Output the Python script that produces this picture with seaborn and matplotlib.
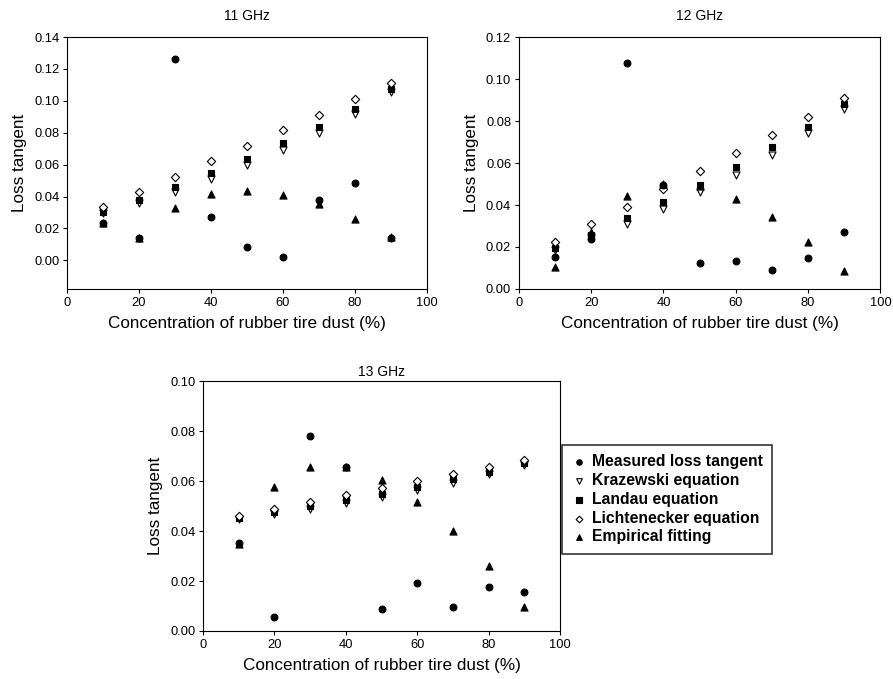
import numpy as np
import pandas as pd
import matplotlib
matplotlib.use("Agg")
import matplotlib.pyplot as plt
import seaborn as sns

# concentration of rubber tire dust (%)
concentration = [10, 20, 30, 40, 50, 60, 70, 80, 90]

series_names = [
    "Measured loss tangent",
    "Krazewski equation",
    "Landau equation",
    "Lichtenecker equation",
    "Empirical fitting",
]

# 11 GHz
measured_11 = [0.0236, 0.0142, 0.1260, 0.0272, 0.0086, 0.0023, 0.0379, 0.0485, 0.0138]
krazewski_11 = [0.0295, 0.0358, 0.0430, 0.0510, 0.0596, 0.0690, 0.0797, 0.0917, 0.1055]
landau_11 = [0.0303, 0.0380, 0.0460, 0.0548, 0.0638, 0.0737, 0.0839, 0.0952, 0.1073]
lichtenecker_11 = [0.0333, 0.0427, 0.0525, 0.0621, 0.0718, 0.0816, 0.0912, 0.1010, 0.1110]
empirical_11 = [0.0234, 0.0140, 0.0329, 0.0418, 0.0437, 0.0412, 0.0354, 0.0262, 0.0144]

# 12 GHz
measured_12 = [0.0151, 0.0240, 0.1078, 0.0495, 0.0125, 0.0133, 0.0092, 0.0148, 0.0270]
krazewski_12 = [0.0187, 0.0246, 0.0311, 0.0381, 0.0460, 0.0544, 0.0638, 0.0743, 0.0857]
landau_12 = [0.0195, 0.0259, 0.0337, 0.0413, 0.0494, 0.0579, 0.0675, 0.0770, 0.0881]
lichtenecker_12 = [0.0224, 0.0308, 0.0392, 0.0478, 0.0563, 0.0649, 0.0735, 0.0821, 0.0908]
empirical_12 = [0.0103, 0.0271, 0.0444, 0.0500, 0.0492, 0.0430, 0.0341, 0.0224, 0.0084]

# 13 GHz
measured_13 = [0.0354, 0.0057, 0.0781, 0.0655, 0.0088, 0.0194, 0.0097, 0.0178, 0.0155]
krazewski_13 = [0.0449, 0.0470, 0.0490, 0.0511, 0.0538, 0.0565, 0.0594, 0.0629, 0.0666]
landau_13 = [0.0451, 0.0478, 0.0501, 0.0525, 0.0549, 0.0578, 0.0607, 0.0638, 0.0674]
lichtenecker_13 = [0.0462, 0.0489, 0.0517, 0.0545, 0.0574, 0.0601, 0.0629, 0.0657, 0.0684]
empirical_13 = [0.0348, 0.0578, 0.0658, 0.0658, 0.0605, 0.0517, 0.0401, 0.0259, 0.0097]

panels = {
    "11 GHz": [measured_11, krazewski_11, landau_11, lichtenecker_11, empirical_11],
    "12 GHz": [measured_12, krazewski_12, landau_12, lichtenecker_12, empirical_12],
    "13 GHz": [measured_13, krazewski_13, landau_13, lichtenecker_13, empirical_13],
}

# marker style per series: (marker, face, size)
styles = {
    "Measured loss tangent": ("o", "black", 24),
    "Krazewski equation": ("v", "white", 26),
    "Landau equation": ("s", "black", 22),
    "Lichtenecker equation": ("D", "white", 18),
    "Empirical fitting": ("^", "black", 26),
}
draw_order = [1, 2, 3, 0, 4]

sns.set_style("ticks")
plt.rcParams['font.family'] = ['Liberation Sans', 'DejaVu Sans']
plt.rcParams['text.color'] = 'black'
plt.rcParams['axes.labelcolor'] = 'black'
plt.rcParams['xtick.color'] = 'black'
plt.rcParams['ytick.color'] = 'black'

fig = plt.figure(figsize=(8.93, 6.79), dpi=100)
axes = {
    "11 GHz": fig.add_axes([0.075, 0.5744, 0.403, 0.371]),
    "12 GHz": fig.add_axes([0.581, 0.5744, 0.405, 0.371]),
    "13 GHz": fig.add_axes([0.2273, 0.0707, 0.400, 0.368]),
}
limits = {
    "11 GHz": (-0.018, 0.14, np.arange(0, 0.141, 0.02), 12),
    "12 GHz": (0.0, 0.12, np.arange(0, 0.121, 0.02), 12),
    "13 GHz": (0.0, 0.10, np.arange(0, 0.101, 0.02), 3.5),
}

for title, values in panels.items():
    ax = axes[title]
    df = pd.DataFrame({"conc": concentration * 5,
                       "tan": np.concatenate(values),
                       "series": np.repeat(series_names, len(concentration))})
    for i in draw_order:
        name = series_names[i]
        marker, face, size = styles[name]
        sns.scatterplot(data=df[df["series"] == name], x="conc", y="tan", ax=ax,
                        marker=marker, s=size, color=face, edgecolor="black",
                        linewidth=0.8, label=name, legend=False, zorder=3)
    ymin, ymax, yticks, pad = limits[title]
    ax.set_xlim(0, 100)
    ax.set_ylim(ymin, ymax)
    ax.set_xticks(range(0, 101, 20))
    ax.set_yticks(yticks)
    ax.set_yticklabels([f"{t:.2f}" for t in yticks])
    ax.set_title(title, fontsize=10, pad=pad, color="black")
    ax.set_xlabel("Concentration of rubber tire dust (%)", fontsize=12.3, labelpad=5)
    ax.set_ylabel("Loss tangent", fontsize=12.3, labelpad=5)
    ax.tick_params(labelsize=9.3, length=3, width=0.8, direction="out", pad=2.5,
                   colors="black")
    for sp in ax.spines.values():
        sp.set_visible(True)
        sp.set_linewidth(0.8)
        sp.set_color("black")

handles, labels = axes["13 GHz"].get_legend_handles_labels()
order = [labels.index(n) for n in series_names]
leg = fig.legend([handles[i] for i in order], [labels[i] for i in order],
                 loc="upper left", bbox_to_anchor=(562 / 893, 1 - 445 / 679),
                 prop={"weight": "bold", "size": 11.3}, frameon=True, fancybox=False,
                 handletextpad=0.3, handlelength=1.0, borderpad=0.6,
                 labelspacing=0.24, markerscale=0.8, borderaxespad=0)
leg.get_frame().set_edgecolor("black")
leg.get_frame().set_linewidth(1.2)
for t in leg.get_texts():
    t.set_color("black")

fig.savefig("out.png", dpi=100)
